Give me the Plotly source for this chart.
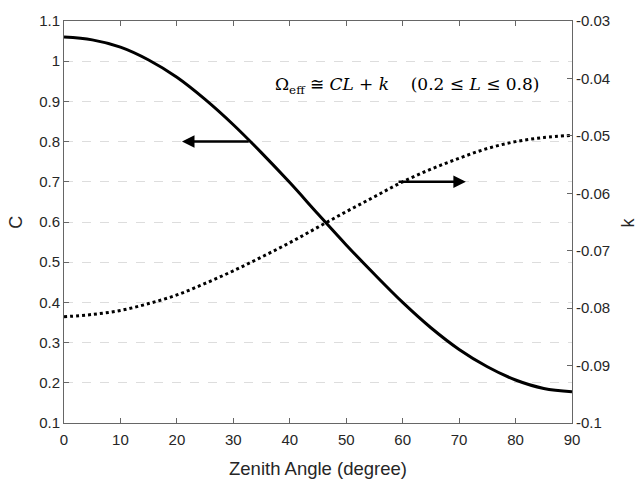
import plotly.graph_objects as go

# Data
zenith = [0, 5, 10, 15, 20, 25, 30, 35, 40, 45, 50, 55, 60, 65, 70, 75, 80, 85, 90]
C_vals = [1.060, 1.053, 1.035, 1.003, 0.960, 0.905, 0.842, 0.772, 0.698, 0.620,
          0.543, 0.470, 0.400, 0.337, 0.283, 0.240, 0.207, 0.186, 0.178]
k_vals = [-0.0815, -0.0811, -0.0804, -0.0792, -0.0777, -0.0757, -0.0735, -0.0711,
          -0.0686, -0.0659, -0.0632, -0.0606, -0.0580, -0.0558, -0.0539, -0.0522,
          -0.0510, -0.0503, -0.0499]

x_ticks = [0, 10, 20, 30, 40, 50, 60, 70, 80, 90]
c_ticks = [0.1, 0.2, 0.3, 0.4, 0.5, 0.6, 0.7, 0.8, 0.9, 1.0, 1.1]
c_labels = ["0.1", "0.2", "0.3", "0.4", "0.5", "0.6", "0.7", "0.8", "0.9", "1", "1.1"]
k_ticks = [-0.1, -0.09, -0.08, -0.07, -0.06, -0.05, -0.04, -0.03]
k_labels = ["-0.1", "-0.09", "-0.08", "-0.07", "-0.06", "-0.05", "-0.04", "-0.03"]

AX = "#666666"
TXT = "#262626"
FONT = "Liberation Sans, Arial, sans-serif"

fig = go.Figure()
fig.add_trace(go.Scatter(x=zenith, y=C_vals, mode="lines", line=dict(color="black", width=3, shape="spline"),
                         yaxis="y", showlegend=False))
fig.add_trace(go.Scatter(x=zenith, y=k_vals, mode="lines", line=dict(color="black", width=3, dash="dot", shape="spline"),
                         yaxis="y2", showlegend=False))

fig.update_layout(
    width=639, height=480,
    margin=dict(l=64, r=67, t=15, b=57),
    paper_bgcolor="white", plot_bgcolor="white",
    font=dict(family=FONT, color=TXT, size=15),
    xaxis=dict(range=[0, 90], tickvals=x_ticks, ticks="inside", ticklen=5, tickcolor=AX,
               showline=True, linecolor=AX, linewidth=1, mirror="ticks", showgrid=False,
               zeroline=False, tickfont=dict(size=15, color=TXT), ticklabelstandoff=3),
    yaxis=dict(range=[0.1, 1.1], tickvals=c_ticks, ticktext=c_labels, ticks="inside", ticklen=5,
               tickcolor=AX, showline=True, linecolor=AX, linewidth=1, showgrid=True,
               gridcolor="#dddddd", griddash="dash", gridwidth=1, zeroline=False,
               tickfont=dict(size=15, color=TXT)),
    yaxis2=dict(range=[-0.1, -0.03], tickvals=k_ticks, ticktext=k_labels, overlaying="y", side="right",
                ticks="inside", ticklen=5, tickcolor=AX, showline=True, linecolor=AX, linewidth=1,
                showgrid=False, zeroline=False, tickfont=dict(size=15, color=TXT)),
)

annotations = [
    dict(x=0.5, y=-0.082, xref="paper", yref="paper", text="Zenith Angle (degree)", showarrow=False,
         font=dict(size=18.5, color=TXT, family=FONT), xanchor="center", yanchor="top"),
    dict(x=-0.095, y=0.5, xref="paper", yref="paper", text="C", showarrow=False, textangle=-90,
         font=dict(size=18, color=TXT, family=FONT), xanchor="center", yanchor="middle"),
    dict(x=1.111, y=0.5, xref="paper", yref="paper", text="k", showarrow=False, textangle=-90,
         font=dict(size=18, color=TXT, family=FONT), xanchor="center", yanchor="middle"),
    dict(x=60.8, y=0.94, xref="x", yref="y",
         text="Ω<sub>eff</sub> ≅ <i>CL</i> + <i>k</i> &nbsp;&nbsp;&nbsp;(0.2 ≤ <i>L</i> ≤ 0.8)",
         showarrow=False, font=dict(size=17, color="black", family="DejaVu Serif, serif"),
         xanchor="center", yanchor="middle"),
    dict(x=20.9, y=0.8, xref="x", yref="y", ax=33.0, ay=0.8, axref="x", ayref="y", text="",
         showarrow=True, arrowhead=2, arrowsize=1, arrowwidth=2.5, arrowcolor="black"),
    dict(x=71.2, y=0.7, xref="x", yref="y", ax=59.0, ay=0.7, axref="x", ayref="y", text="",
         showarrow=True, arrowhead=2, arrowsize=1, arrowwidth=2.5, arrowcolor="black"),
]
fig.update_layout(annotations=annotations)

fig.write_html("out.html")
